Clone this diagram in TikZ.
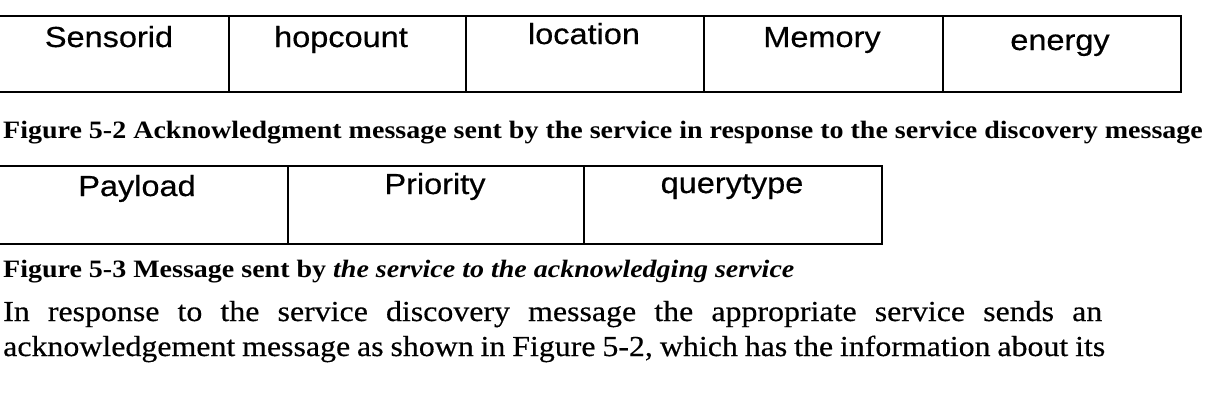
\documentclass[tikz,border=0pt]{standalone}
\usepackage{fontspec}
\setmainfont{Liberation Serif}[FakeStretch=1.1,FakeBold=0.4]
\newfontfamily\capfont{Liberation Serif}[FakeStretch=1.12]
\newfontfamily\cellfont{Liberation Sans}[FakeStretch=1.12,FakeBold=0.5]
\begin{document}
\begin{tikzpicture}[x=1pt,y=-1pt,
  cell/.style={draw, line width=1.8pt, rectangle, inner sep=0pt, anchor=north west},
  celltext/.style={font=\cellfont\fontsize{29}{34}\selectfont, inner sep=0pt, anchor=base},
  captext/.style={font=\capfont\bfseries\fontsize{25}{30}\selectfont, inner sep=0pt, anchor=base west},
  bodytext/.style={font=\fontsize{29}{34}\selectfont, inner sep=0pt, anchor=base west}]
\useasboundingbox (0,0) rectangle (1225,408);
% table 1
\node[cell, minimum width=231pt, minimum height=76pt] (a1) at (-3,15) {};
\node[cell, minimum width=237pt, minimum height=76pt] (a2) at (228,15) {};
\node[cell, minimum width=238pt, minimum height=76pt] (a3) at (465,15) {};
\node[cell, minimum width=239pt, minimum height=76pt] (a4) at (703,15) {};
\node[cell, minimum width=238pt, minimum height=76pt] (a5) at (942,15) {};
\node[celltext] (ta1) at (109,47) {Sensorid};
\node[celltext] (ta2) at (341,47) {hopcount};
\node[celltext] (ta3) at (584,44) {location};
\node[celltext] (ta4) at (822,47) {Memory};
\node[celltext] (ta5) at (1060,50) {energy};
% caption 1
\node[captext] (cap1) at (3,138) {Figure 5-2 Acknowledgment message sent by the service in response to the service discovery message};
% table 2
\node[cell, minimum width=290pt, minimum height=78pt] (b1) at (-3,165) {};
\node[cell, minimum width=296pt, minimum height=78pt] (b2) at (287,165) {};
\node[cell, minimum width=298pt, minimum height=78pt] (b3) at (583,165) {};
\node[celltext] (tb1) at (137,196) {Payload};
\node[celltext] (tb2) at (435,194) {Priority};
\node[celltext] (tb3) at (732,193) {querytype};
% caption 2
\node[captext] (cap2) at (3,277) {Figure 5-3 Message sent by \textit{the service to the acknowledging service}};
% paragraph
\node[bodytext] (p1) at (3,321) {\makebox[1099pt][s]{In response to the service discovery message the appropriate service sends an}};
\node[bodytext] (p2) at (3,356) {\makebox[1102pt][s]{acknowledgement message as shown in Figure 5-2, which has the information about its}};
\end{tikzpicture}
\end{document}
